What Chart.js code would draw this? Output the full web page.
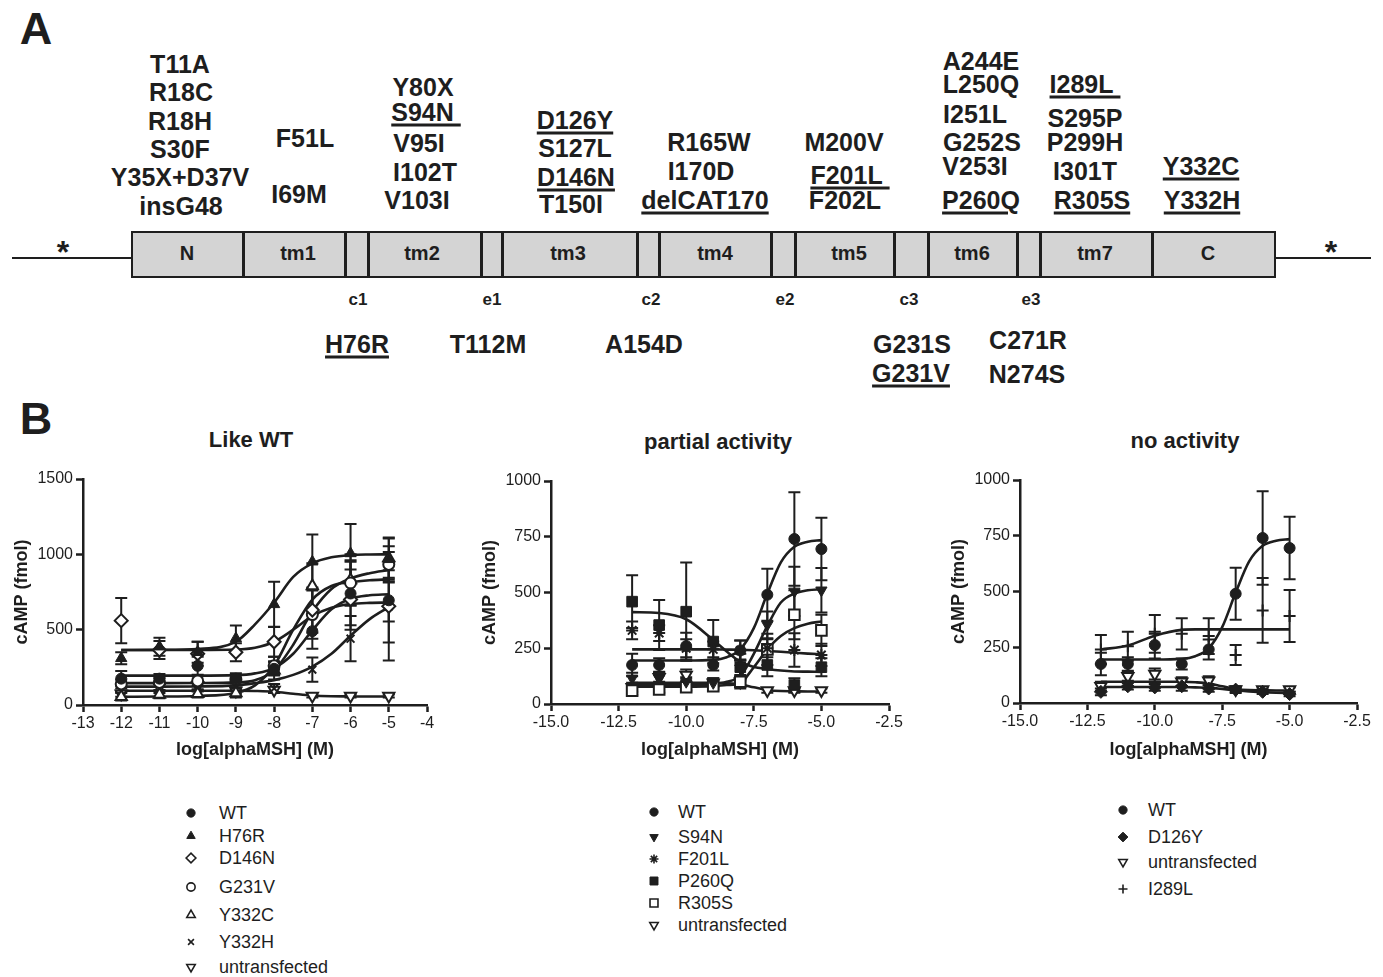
<!DOCTYPE html>
<html>
<head>
<meta charset="utf-8">
<script src="https://cdn.jsdelivr.net/npm/chart.js@4.4.1/dist/chart.umd.min.js"></script>
<style>
    body { margin: 0; background: #fff; width: 1383px; height: 977px; position: relative; overflow: hidden;
           font-family: "Liberation Sans", Arial, Helvetica, sans-serif; color: #1e1e1e; }
    .lbl { position: absolute; transform: translate(-50%, -50%); white-space: pre; font-weight: bold; line-height: 1; }
    .mut { font-size: 25px; }
    .ast { font-size: 32px; }
    .seg { font-size: 20px; }
    .loop { font-size: 17px; }
    .big { font-size: 45px; }
    .u { text-decoration: underline; text-decoration-thickness: 2.5px; text-underline-offset: 3px; }
    .title { font-size: 22px; }
    .hline { position: absolute; height: 2.5px; background: #1e1e1e; }
    .box { position: absolute; left: 131px; top: 231px; width: 1145px; height: 47px; box-sizing: border-box;
           border: 2.5px solid #1e1e1e; background: #d4d4d4; }
    .div { position: absolute; top: 231px; width: 2.5px; height: 47px; background: #1e1e1e; }
    canvas { position: absolute; }
    .leg { position: absolute; font-size: 18px; line-height: 1; transform: translateY(-50%); white-space: nowrap; }
    .legmark { position: absolute; }
</style>
</head>
<body>
<div id="panelA"></div>
<canvas id="chartLike" width="450" height="310" style="left:0px;top:460px"></canvas>
<canvas id="chartPartial" width="444" height="310" style="left:468px;top:460px"></canvas>
<canvas id="chartNone" width="443" height="310" style="left:937px;top:460px"></canvas>
<div id="legends"></div>

<script>
// ---------- data ----------
const DOSES = [-12, -11, -10, -9, -8, -7, -6, -5];
const FIT_X = [-12, -11, -10, -9, -8.5, -8, -7.5, -7, -6.5, -6, -5.5, -5];

const X_TICKS_WIDE = [-13, -12, -11, -10, -9, -8, -7, -6, -5, -4];
const Y_TICKS_WIDE = [0, 500, 1000, 1500];
const X_TICKS = [-15, -12.5, -10, -7.5, -5, -2.5];
const Y_TICKS = [0, 250, 500, 750, 1000];

const WT_Y    = [175, 175, 260, 175, 240, 490, 740, 695];
const WT_ERR  = [50, 30, 60, 25, 45, 117, 210, 140];
const WT_FIT  = [195, 195, 195, 198, 210, 245, 340, 495, 635, 705, 728, 735];

const UNTR_Y   = [75, 120, 130, 95, 100, 60, 60, 60];
const UNTR_ERR = [20, 20, 25, 20, 20, 10, 10, 10];
const UNTR_FIT = [95, 95, 95, 95, 93, 88, 75, 63, 58, 57, 56, 56];

const H76R_Y   = [310, 387, 350, 442, 668, 951, 1006, 967];
const H76R_ERR = [40, 60, 70, 85, 150, 180, 195, 145];
const H76R_FIT = [365, 366, 372, 420, 535, 680, 850, 940, 980, 995, 999, 1000];

const D146N_Y   = [560, 365, 340, 350, 420, 630, 700, 655];
const D146N_ERR = [150, 60, 80, 60, 100, 150, 200, 240];
const D146N_FIT = [365, 365, 365, 368, 380, 420, 500, 590, 645, 670, 678, 680];

const G231V_Y   = [140, 150, 160, 170, 260, 600, 810, 933];
const G231V_ERR = [30, 30, 30, 40, 60, 160, 150, 120];
const G231V_FIT = [145, 145, 146, 150, 165, 230, 400, 620, 770, 840, 875, 896];

const Y332C_Y   = [55, 70, 75, 80, 230, 790, 830, 975];
const Y332C_ERR = [25, 25, 25, 30, 60, 150, 170, 130];
const Y332C_FIT = [55, 56, 60, 80, 130, 260, 500, 700, 790, 815, 828, 834];

const Y332H_Y   = [60, 110, 120, 130, 110, 235, 440, 655];
const Y332H_ERR = [25, 30, 30, 30, 30, 80, 150, 360];
const Y332H_FIT = [122, 122, 123, 130, 145, 165, 200, 255, 340, 460, 570, 650];

const S94N_Y   = [115, 115, 100, 95, 160, 355, 505, 510];
const S94N_ERR = [25, 25, 20, 20, 40, 60, 110, 100];
const S94N_FIT = [85, 85, 86, 90, 100, 125, 225, 350, 455, 495, 510, 515];

const F201L_Y   = [330, 318, 250, 245, 240, 250, 242, 220];
const F201L_ERR = [40, 35, 40, 35, 45, 40, 75, 50];
const F201L_FIT = [245, 245, 245, 245, 244, 243, 241, 238, 234, 230, 226, 223];

const P260Q_Y   = [459, 354, 414, 280, 165, 175, 85, 165];
const P260Q_ERR = [118, 112, 220, 97, 60, 50, 30, 40];
const P260Q_FIT = [412, 408, 380, 287, 235, 190, 166, 157, 150, 146, 145, 144];

const R305S_Y   = [60, 65, 75, 80, 100, 245, 400, 330];
const R305S_ERR = [20, 15, 15, 15, 30, 70, 110, 70];
const R305S_FIT = [78, 78, 78, 80, 85, 95, 165, 245, 305, 340, 360, 370];

const D126Y_Y   = [50, 75, 70, 75, 65, 60, 50, 40];
const D126Y_ERR = [15, 15, 15, 20, 15, 15, 10, 10];
const D126Y_FIT = [72, 72, 72, 72, 70, 68, 63, 57, 52, 48, 46, 45];

const I289L_Y   = [240, 255, 310, 310, 300, 215, 415, 390];
const I289L_ERR = [65, 65, 85, 70, 80, 45, 145, 117];
const I289L_FIT = [240, 258, 302, 328, 330, 330, 330, 330, 330, 330, 330, 330];

// ---------- panel A layout ----------
const INK = '#1e1e1e';
const FONT = '"Liberation Sans", Arial, Helvetica, sans-serif';

const MUTATIONS = [
    ['T11A', 180, 64], ['R18C', 181, 92], ['R18H', 180, 121], ['S30F', 180, 149],
    ['Y35X+D37V', 180, 177], ['insG48', 181, 206],
    ['F51L', 305, 138], ['I69M', 299, 194],
    ['Y80X', 423, 87], ['S94N\u00a0', 426, 112, true], ['V95I', 419, 143], ['I102T', 425, 172], ['V103I', 417, 200],
    ['D126Y', 575, 120, true], ['S127L', 575, 148], ['D146N', 576, 177, true], ['T150I', 571, 204],
    ['R165W', 709, 142], ['I170D', 701, 171], ['delCAT170', 705, 200, true],
    ['M200V', 844, 142], ['F201L\u00a0', 850, 175, true], ['F202L', 845, 200],
    ['A244E', 981, 61], ['L250Q', 981, 84], ['I251L', 975, 114], ['G252S', 982, 142],
    ['V253I', 975, 166], ['P260Q', 981, 200, true],
    ['I289L\u00a0', 1085, 84, true], ['S295P', 1085, 118], ['P299H', 1085, 142], ['I301T', 1085, 171],
    ['R305S', 1092, 200, true],
    ['Y332C', 1201, 166, true], ['Y332H', 1202, 200, true],
    ['H76R', 357, 344, true], ['T112M', 488, 344], ['A154D', 644, 344],
    ['G231S', 912, 344], ['G231V', 911, 373, true], ['C271R', 1028, 340], ['N274S', 1027, 374]
];
const SEGMENTS = [['N', 187], ['tm1', 298], ['tm2', 422], ['tm3', 568], ['tm4', 715],
                  ['tm5', 849], ['tm6', 972], ['tm7', 1095], ['C', 1208]];
const DIVIDERS = [243, 345, 368, 481, 502, 637, 659, 771, 795, 894, 928, 1017, 1040, 1152];
const LOOPS = [['c1', 358], ['e1', 492], ['c2', 651], ['e2', 785], ['c3', 909], ['e3', 1031]];

function addLabel(parent, text, x, y, cls, underline) {
    const el = document.createElement('div');
    el.className = 'lbl ' + cls;
    el.style.left = x + 'px';
    el.style.top = y + 'px';
    if (underline) {
        const s = document.createElement('span');
        s.className = 'u';
        s.textContent = text;
        el.appendChild(s);
    } else {
        el.textContent = text;
    }
    parent.appendChild(el);
    return el;
}

function drawPanelA() {
    const p = document.getElementById('panelA');
    addLabel(p, 'A', 36, 28, 'big');
    addLabel(p, 'B', 36, 418, 'big');

    const l1 = document.createElement('div');
    l1.className = 'hline';
    l1.style.cssText = 'left:12px;top:256.5px;width:120px';
    p.appendChild(l1);
    const l2 = document.createElement('div');
    l2.className = 'hline';
    l2.style.cssText = 'left:1275px;top:256.5px;width:96px';
    p.appendChild(l2);

    const box = document.createElement('div');
    box.className = 'box';
    p.appendChild(box);
    DIVIDERS.forEach(x => {
        const d = document.createElement('div');
        d.className = 'div';
        d.style.left = (x - 1) + 'px';
        p.appendChild(d);
    });

    // asterisk glyph sits high in its em box, so nudge down a little
    addLabel(p, '*', 63, 252, 'ast');
    addLabel(p, '*', 1331, 252, 'ast');
    SEGMENTS.forEach(([t, x]) => addLabel(p, t, x, 253, 'seg'));
    LOOPS.forEach(([t, x]) => addLabel(p, t, x, 299, 'loop'));
    MUTATIONS.forEach(([t, x, y, u]) => addLabel(p, t, x, y, 'mut', u));

    addLabel(p, 'Like WT', 251, 440, 'title');
    addLabel(p, 'partial activity', 718, 442, 'title');
    addLabel(p, 'no activity', 1185, 441, 'title');
}

// ---------- markers ----------
const MARK = {
    dot:      { style: 'circle',   r: 5.5, filled: true },
    tri:      { style: 'triangle', r: 6.5, filled: true },
    openDiam: { style: 'rectRot',  r: 6.5, filled: false },
    openDot:  { style: 'circle',   r: 5.5, filled: false },
    openTri:  { style: 'triangle', r: 6.5, filled: false },
    cross:    { style: 'crossRot', r: 5.5, filled: false },
    openDown: { style: 'triangle', r: 6.5, filled: false, rot: 180 },
    down:     { style: 'triangle', r: 6.5, filled: true, rot: 180 },
    star:     { style: 'star',     r: 6,   filled: false },
    square:   { style: 'rect',     r: 7.5, filled: true },
    openSq:   { style: 'rect',     r: 7.5, filled: false },
    diam:     { style: 'rectRot',  r: 6.5, filled: true },
    plus:     { style: 'cross',    r: 6,   filled: false }
};

// ---------- error bars ----------
const errorBars = {
    id: 'errorBars',
    beforeDatasetsDraw(chart) {
        const { ctx, scales: { x, y } } = chart;
        ctx.save();
        ctx.strokeStyle = INK;
        ctx.lineWidth = 2;
        chart.data.datasets.forEach(ds => {
            if (!ds.errors) return;
            ds.data.forEach((p, i) => {
                const e = ds.errors[i];
                if (!e) return;
                const px = x.getPixelForValue(p.x);
                const top = y.getPixelForValue(p.y + e);
                const bot = y.getPixelForValue(Math.max(p.y - e, 0));
                ctx.beginPath();
                ctx.moveTo(px, top); ctx.lineTo(px, bot);
                ctx.moveTo(px - 6, top); ctx.lineTo(px + 6, top);
                ctx.moveTo(px - 6, bot); ctx.lineTo(px + 6, bot);
                ctx.stroke();
            });
        });
        ctx.restore();
    }
};

function axis(ticksArr, opts) {
    return {
        type: 'linear',
        min: ticksArr[0],
        max: ticksArr[ticksArr.length - 1],
        afterBuildTicks: s => { s.ticks = ticksArr.map(v => ({ value: v })); },
        afterFit: opts.fit,
        border: { display: true, color: INK, width: 2.5 },
        grid: { display: true, drawOnChartArea: false, drawTicks: true, tickLength: 7, tickWidth: 2.5, tickColor: INK },
        ticks: {
            color: INK, padding: opts.pad, font: { family: FONT, size: 16 },
            autoSkip: false, maxRotation: 0,
            callback: opts.fmt || (v => String(v))
        },
        title: {
            display: true, text: opts.title, color: INK,
            font: { family: FONT, size: 18, weight: 'bold' },
            padding: opts.titlePad
        }
    };
}

function buildChart(id, cfg) {
    const datasets = [];
    cfg.series.forEach(s => {
        datasets.push({
            label: s.label + ' fit',
            data: FIT_X.map((x, i) => ({ x, y: s.fit[i] })),
            showLine: true, pointRadius: 0, borderColor: INK, borderWidth: 2.6,
            cubicInterpolationMode: 'monotone', order: 1
        });
    });
    cfg.series.forEach(s => {
        const m = s.mark;
        datasets.push({
            label: s.label,
            data: DOSES.map((x, i) => ({ x, y: s.y[i] })),
            errors: s.err,
            mark: m,
            showLine: false,
            pointStyle: m.style,
            pointRotation: m.rot || 0,
            pointRadius: m.r,
            pointBorderWidth: m.filled ? 1 : 2,
            pointBackgroundColor: m.filled ? INK : '#fff',
            pointBorderColor: INK,
            order: 0
        });
    });

    const xAxis = axis(cfg.xTicks, {
        title: 'log[alphaMSH] (M)', pad: 2, titlePad: { top: 4, bottom: 9 },
        fmt: cfg.xFmt, fit: s => { s.height = cfg.xHeight; }
    });
    const yAxis = axis(cfg.yTicks, {
        title: 'cAMP (fmol)', pad: 3, titlePad: { top: 11, bottom: 4 },
        fit: s => { s.width = 83; }
    });

    return new Chart(document.getElementById(id), {
        type: 'scatter',
        data: { datasets },
        options: {
            animation: false,
            responsive: false,
            devicePixelRatio: 1,
            layout: { padding: { top: cfg.padTop, right: 23, left: 0, bottom: 0 } },
            plugins: { legend: { display: false }, tooltip: { enabled: false } },
            scales: { x: xAxis, y: yAxis }
        },
        plugins: [errorBars]
    });
}

// ---------- legends (built from chart datasets) ----------
function drawLegend(chart, markX, textX, rows) {
    const host = document.getElementById('legends');
    const pts = chart.data.datasets.filter(d => d.errors);
    pts.forEach((ds, i) => {
        const y = rows[i];
        const c = document.createElement('canvas');
        c.width = 18; c.height = 18;
        c.className = 'legmark';
        c.style.left = (markX - 9) + 'px';
        c.style.top = (y - 9) + 'px';
        host.appendChild(c);
        const ctx = c.getContext('2d');
        const m = ds.mark;
        ctx.fillStyle = m.filled ? INK : '#fff';
        ctx.strokeStyle = INK;
        ctx.lineWidth = m.filled ? 1 : 1.6;
        if (Chart.helpers && Chart.helpers.drawPoint) {
            Chart.helpers.drawPoint(ctx, {
                pointStyle: m.style, rotation: m.rot || 0,
                radius: m.r * 0.75, borderWidth: ctx.lineWidth
            }, 9, 9);
        }
        const t = document.createElement('div');
        t.className = 'leg';
        t.style.left = textX + 'px';
        t.style.top = y + 'px';
        t.textContent = ds.label;
        host.appendChild(t);
    });
}

Chart.defaults.font.family = FONT;
drawPanelA();

const chartLike = buildChart('chartLike', {
    xTicks: X_TICKS_WIDE, yTicks: Y_TICKS_WIDE, padTop: 19, xHeight: 65,
    series: [
        { label: 'WT', y: WT_Y, err: WT_ERR, fit: WT_FIT, mark: MARK.dot },
        { label: 'H76R', y: H76R_Y, err: H76R_ERR, fit: H76R_FIT, mark: MARK.tri },
        { label: 'D146N', y: D146N_Y, err: D146N_ERR, fit: D146N_FIT, mark: MARK.openDiam },
        { label: 'G231V', y: G231V_Y, err: G231V_ERR, fit: G231V_FIT, mark: MARK.openDot },
        { label: 'Y332C', y: Y332C_Y, err: Y332C_ERR, fit: Y332C_FIT, mark: MARK.openTri },
        { label: 'Y332H', y: Y332H_Y, err: Y332H_ERR, fit: Y332H_FIT, mark: MARK.cross },
        { label: 'untransfected', y: UNTR_Y, err: UNTR_ERR, fit: UNTR_FIT, mark: MARK.openDown }
    ]
});

const chartPartial = buildChart('chartPartial', {
    xTicks: X_TICKS, yTicks: Y_TICKS, padTop: 21, xHeight: 66, xFmt: v => v.toFixed(1),
    series: [
        { label: 'WT', y: WT_Y, err: WT_ERR, fit: WT_FIT, mark: MARK.dot },
        { label: 'S94N', y: S94N_Y, err: S94N_ERR, fit: S94N_FIT, mark: MARK.down },
        { label: 'F201L', y: F201L_Y, err: F201L_ERR, fit: F201L_FIT, mark: MARK.star },
        { label: 'P260Q', y: P260Q_Y, err: P260Q_ERR, fit: P260Q_FIT, mark: MARK.square },
        { label: 'R305S', y: R305S_Y, err: R305S_ERR, fit: R305S_FIT, mark: MARK.openSq },
        { label: 'untransfected', y: UNTR_Y, err: UNTR_ERR, fit: UNTR_FIT, mark: MARK.openDown }
    ]
});

const chartNone = buildChart('chartNone', {
    xTicks: X_TICKS, yTicks: Y_TICKS, padTop: 20, xHeight: 67, xFmt: v => v.toFixed(1),
    series: [
        { label: 'WT', y: WT_Y, err: WT_ERR, fit: WT_FIT, mark: MARK.dot },
        { label: 'D126Y', y: D126Y_Y, err: D126Y_ERR, fit: D126Y_FIT, mark: MARK.diam },
        { label: 'untransfected', y: UNTR_Y, err: UNTR_ERR, fit: UNTR_FIT, mark: MARK.openDown },
        { label: 'I289L', y: I289L_Y, err: I289L_ERR, fit: I289L_FIT, mark: MARK.plus }
    ]
});

drawLegend(chartLike, 191, 219, [813, 836, 858, 887, 915, 942, 967]);
drawLegend(chartPartial, 654, 678, [812, 837, 859, 881, 903, 925]);
drawLegend(chartNone, 1123, 1148, [810, 837, 862, 889]);
</script>
</body>
</html>
